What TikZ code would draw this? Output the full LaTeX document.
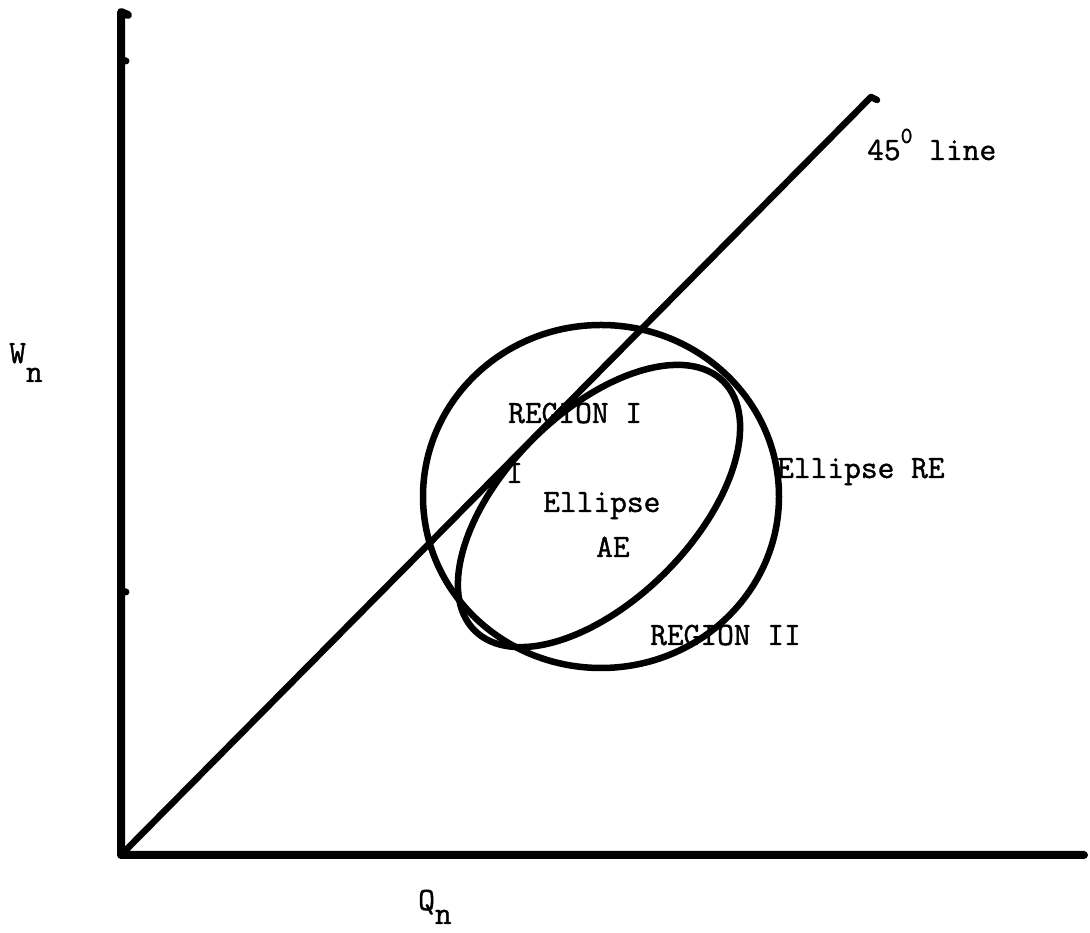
\documentclass[tikz,border=0pt]{standalone}
\usepackage{fontspec}
\newfontfamily\tw{Latin Modern Mono}[FakeBold=1.2]
\begin{document}
\begin{tikzpicture}[x=1pt,y=1pt,
  axis/.style={line width=8pt, line cap=round, line join=round},
  curve/.style={line width=6.5pt, line cap=round, line join=round},
  tick/.style={line width=7pt, line cap=round},
  lbl/.style={font=\tw\fontsize{32.5}{38}\selectfont, inner sep=0pt, anchor=base west}]
\useasboundingbox (0,0) rectangle (1090,933);
% axes
\coordinate (O) at (121,78);
\coordinate (Ytop) at (121,921);
\coordinate (Xend) at (1084,78);
\coordinate (Lend) at (871,836);
\coordinate (T1) at (121,873);
\coordinate (T2) at (121,342);
\draw[axis] (Xend) -- (O) -- (Ytop) -- ++(7,-3);
\draw[tick] (T1) -- ++(5,-1);
\draw[tick] (T2) -- ++(5,-1);
% 45 degree line
\draw[curve] (O) -- (Lend) -- ++(6,-3);
% Ellipse RE
\coordinate (CRE) at (601,436.5);
\draw[curve] (CRE) ellipse [x radius=178, y radius=171.5];
% Ellipse AE
\coordinate (CAE) at (599,427);
\draw[curve, rotate around={45:(CAE)}] (CAE) ellipse [x radius=176, y radius=94];
% labels
\node[lbl] (t45) at (867,773) {45\raisebox{17pt}{\fontsize{23}{26}\selectfont 0}\ line};
\node[lbl] (wn) at (9,570) {W\raisebox{-19pt}{n}};
\node[lbl] (qn) at (418,23) {Q\raisebox{-14pt}{n}};
\node[lbl] (r1) at (508,510) {REGION I};
\node[lbl] (i1) at (506,450) {I};
\node[lbl] (el) at (543,421) {Ellipse};
\node[lbl] (ae) at (596,376) {AE};
\node[lbl] (re) at (777,455) {Ellipse RE};
\node[lbl] (r2) at (650,288) {REGION II};
\end{tikzpicture}
\end{document}
